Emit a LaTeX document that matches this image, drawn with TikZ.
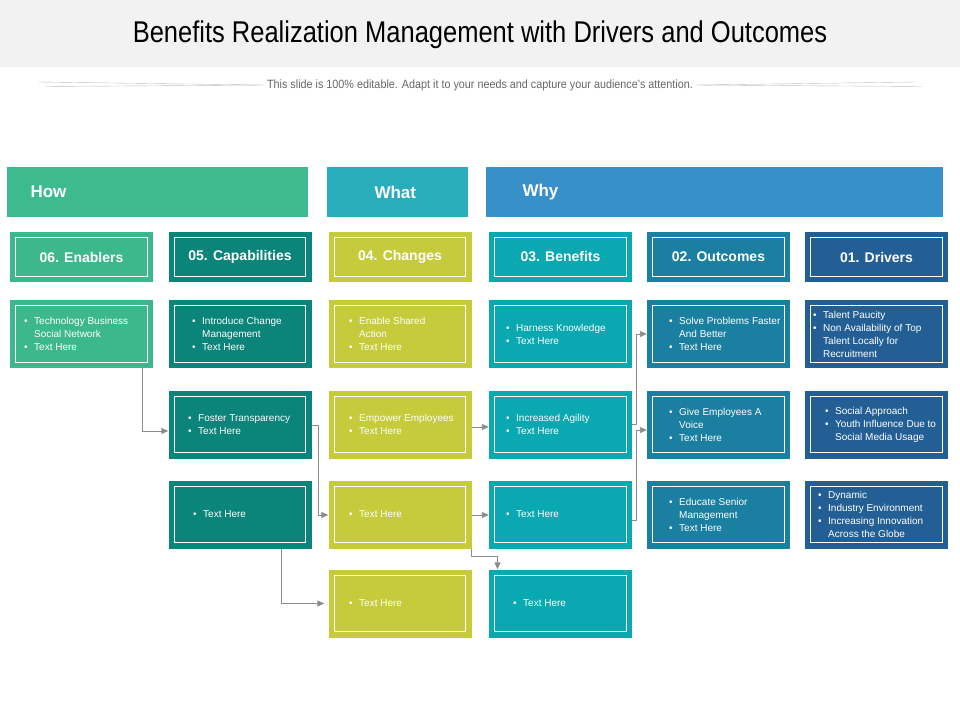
\documentclass[tikz,border=0pt]{standalone}
\usepackage{fontspec}
\setmainfont{Liberation Sans}
\usetikzlibrary{arrows.meta}
\definecolor{cA}{HTML}{3CB88C}
\definecolor{cB}{HTML}{0B8479}
\definecolor{cC}{HTML}{C5CB3A}
\definecolor{cD}{HTML}{0AA8B0}
\definecolor{cE}{HTML}{1A7FA0}
\definecolor{cF}{HTML}{235F94}
\definecolor{hA}{HTML}{3DBB8F}
\definecolor{hB}{HTML}{2AADBB}
\definecolor{hC}{HTML}{3790C8}
\newcommand\bi{\makebox[10pt][l]{\textbullet}}
\newcommand\ind{\hspace*{10pt}}
\begin{document}
\begin{tikzpicture}[x=1pt,y=-1pt,
  box/.style={draw=none,minimum width=143pt,inner sep=0pt},
  cell/.style={box,minimum height=68pt},
  head/.style={box,minimum height=50pt,text=white,font=\bfseries\fontsize{14}{16}\selectfont},
  txt/.style={text=white,font=\fontsize{10}{13}\selectfont,align=left,anchor=west,inner sep=0pt},
  bar/.style={draw=none,minimum height=50pt,inner sep=0pt,text=white,font=\bfseries\fontsize{17}{19}\selectfont},
  conn/.style={draw=gray!90,line width=0.9pt,-{Triangle[length=7pt,width=6pt]}}]
\useasboundingbox (0,0) rectangle (960,720);
\fill[black!5] (0,0) rectangle (960,67);
\node (title) at (480,35) {\fontsize{30}{34}\selectfont\addfontfeature{FakeStretch=0.85}Benefits Realization Management with Drivers and Outcomes};
\node[text=black!60,font=\fontsize{12}{14}\selectfont\addfontfeature{FakeStretch=0.9}] (sub) at (480,85) {This slide is 100\% editable. Adapt it to your needs and capture your audience's attention.};
\draw[black!25] (38,82) -- (sub.west); \draw[black!25] (45,86.5) -- (sub.west);
\draw[black!25] (sub.east) -- (915,82); \draw[black!25] (sub.east) -- (922,86.5);
% bars
\node[bar,fill=hA,minimum width=301pt] (how) at (157.5,192) {};
\node[bar,fill=hB,minimum width=141pt] (what) at (397.5,192) {};
\node[bar,fill=hC,minimum width=457pt] (why) at (714.5,192) {};
\node[text=white,font=\bfseries\fontsize{17}{19}\selectfont,anchor=west] (howt) at (27,192) {How};
\node[text=white,font=\bfseries\fontsize{17}{19}\selectfont,anchor=west] (whatt) at (371,192) {What};
\node[text=white,font=\bfseries\fontsize{17}{19}\selectfont,anchor=west] (whyt) at (519,192) {Why};
% headers
\node[head,fill=cA] (h1) at (81.5,257) {06. Enablers};
\node[head,fill=cB] (h2) at (240,257) {05. Capabilities};
\node[head,fill=cC] (h3) at (400,257) {04. Changes};
\node[head,fill=cD] (h4) at (560.5,257) {03. Benefits};
\node[head,fill=cE] (h5) at (718.5,257) {02. Outcomes};
\node[head,fill=cF] (h6) at (876.5,257) {01. Drivers};
% cells
\node[cell,fill=cA] (a1) at (81.5,334) {};
\node[cell,fill=cB] (b1) at (240,334) {};
\node[cell,fill=cB] (b2) at (240,424.5) {};
\node[cell,fill=cB] (b3) at (240,514.5) {};
\node[cell,fill=cC] (c1) at (400,334) {};
\node[cell,fill=cC] (c2) at (400,424.5) {};
\node[cell,fill=cC] (c3) at (400,514.5) {};
\node[cell,fill=cC] (c4) at (400,603.5) {};
\node[cell,fill=cD] (d1) at (560.5,334) {};
\node[cell,fill=cD] (d2) at (560.5,424.5) {};
\node[cell,fill=cD] (d3) at (560.5,514.5) {};
\node[cell,fill=cD] (d4) at (560.5,603.5) {};
\node[cell,fill=cE] (e1) at (718.5,334) {};
\node[cell,fill=cE] (e2) at (718.5,424.5) {};
\node[cell,fill=cE] (e3) at (718.5,514.5) {};
\node[cell,fill=cF] (f1) at (876.5,334) {};
\node[cell,fill=cF] (f2) at (876.5,424.5) {};
\node[cell,fill=cF] (f3) at (876.5,514.5) {};
\foreach \n in {h1,h2,h3,h4,h5,h6,a1,b1,b2,b3,c1,c2,c3,c4,d1,d2,d3,d4,e1,e2,e3,f1,f2,f3}
  \draw[white,line width=0.8pt] ([shift={(6pt,-6pt)}]\n.north west) rectangle ([shift={(-6pt,6pt)}]\n.south east);
% texts
\node[txt] (ta1) at (24,334) {\bi Technology Business\\\ind Social Network\\\bi Text Here};
\node[txt] (tb1) at (192,334) {\bi Introduce Change\\\ind Management\\\bi Text Here};
\node[txt] (tb2) at (188,424.5) {\bi Foster Transparency\\\bi Text Here};
\node[txt] (tb3) at (193,514.5) {\bi Text Here};
\node[txt] (tc1) at (349,334) {\bi Enable Shared\\\ind Action\\\bi Text Here};
\node[txt] (tc2) at (349,424.5) {\bi Empower Employees\\\bi Text Here};
\node[txt] (tc3) at (349,514.5) {\bi Text Here};
\node[txt] (tc4) at (349,603.5) {\bi Text Here};
\node[txt] (td1) at (506,334) {\bi Harness Knowledge\\\bi Text Here};
\node[txt] (td2) at (506,424.5) {\bi Increased Agility\\\bi Text Here};
\node[txt] (td3) at (506,514.5) {\bi Text Here};
\node[txt] (td4) at (513,603.5) {\bi Text Here};
\node[txt] (te1) at (669,334) {\bi Solve Problems Faster\\\ind And Better\\\bi Text Here};
\node[txt] (te2) at (669,424.5) {\bi Give Employees A\\\ind Voice\\\bi Text Here};
\node[txt] (te3) at (669,514.5) {\bi Educate Senior\\\ind Management\\\bi Text Here};
\node[txt] (tf1) at (813,334) {\bi Talent Paucity\\\bi Non Availability of Top\\\ind Talent Locally for\\\ind Recruitment};
\node[txt] (tf2) at (825,424.5) {\bi Social Approach\\\bi Youth Influence Due to\\\ind Social Media Usage};
\node[txt] (tf3) at (818,514.5) {\bi Dynamic\\\bi Industry Environment\\\bi Increasing Innovation\\\ind Across the Globe};
% connectors
\draw[conn] ([xshift=61pt]a1.south) |- (b2.west |- 0,431);
\draw[conn] (b2.east |- 0,425) -| (318,515) -- (c3.west |- 0,515);
\draw[conn] ([xshift=41pt]b3.south) |- ([xshift=-4pt]c4.west);
\draw[conn] (c2.east |- 0,427) -- (d2.west |- 0,427);
\draw[conn] (c3.east |- 0,515) -- (d3.west |- 0,515);
\draw[conn] (c3.south east) -- ++(0,8) -| ([xshift=-63pt]d4.north);
\draw[conn] (d2.east |- 0,424) -| (636,334) -- (e1.west |- 0,334);
\draw[conn] (d3.east |- 0,520) -| (636,430) -- (e2.west |- 0,430);
\end{tikzpicture}
\end{document}
